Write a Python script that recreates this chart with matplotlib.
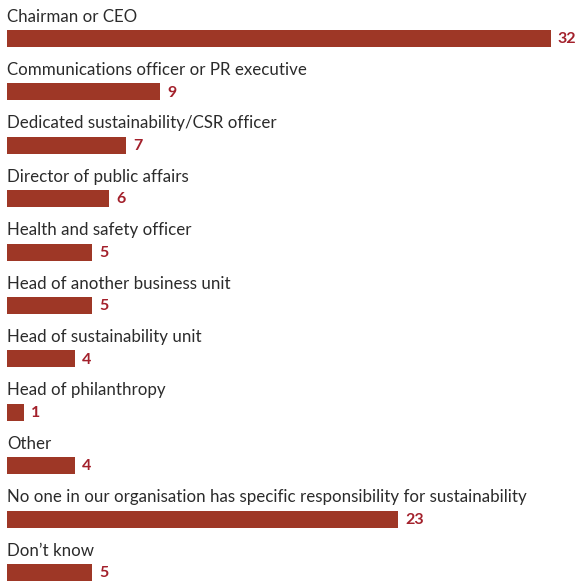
import matplotlib
matplotlib.use("Agg")
import matplotlib.pyplot as plt

categories = [
    "Chairman or CEO",
    "Communications officer or PR executive",
    "Dedicated sustainability/CSR officer",
    "Director of public affairs",
    "Health and safety officer",
    "Head of another business unit",
    "Head of sustainability unit",
    "Head of philanthropy",
    "Other",
    "No one in our organisation has specific responsibility for sustainability",
    "Don\u2019t know",
]
values = [32, 9, 7, 6, 5, 5, 4, 1, 4, 23, 5]

BAR_COLOR = "#9e3726"
VALUE_COLOR = "#a3202b"
LABEL_COLOR = "#2b2b2b"
family = ["Lato", "DejaVu Sans"]

W, H = 576, 581
fig = plt.figure(figsize=(W / 100, H / 100), dpi=100)
ax = fig.add_axes([7 / W, 0, 544 / W, 1])

n = len(values)
pos = list(range(n))
ax.barh(pos, values, height=0.32, color=BAR_COLOR, align="center")
ax.set_xlim(0, 32)
ax.set_ylim(10.16, -0.721)

for i, (lab, v) in enumerate(zip(categories, values)):
    ax.annotate(lab, xy=(0, i - 0.16), xytext=(0, 6), textcoords="offset points",
                ha="left", va="baseline", fontsize=12.2, color=LABEL_COLOR, family=family)
    ax.annotate(str(v), xy=(v, i), xytext=(5, -0.5), textcoords="offset points",
                ha="left", va="center", fontsize=11.5, fontweight="bold", color=VALUE_COLOR, family=family)

ax.axis("off")
fig.savefig("out.png", dpi=100)
